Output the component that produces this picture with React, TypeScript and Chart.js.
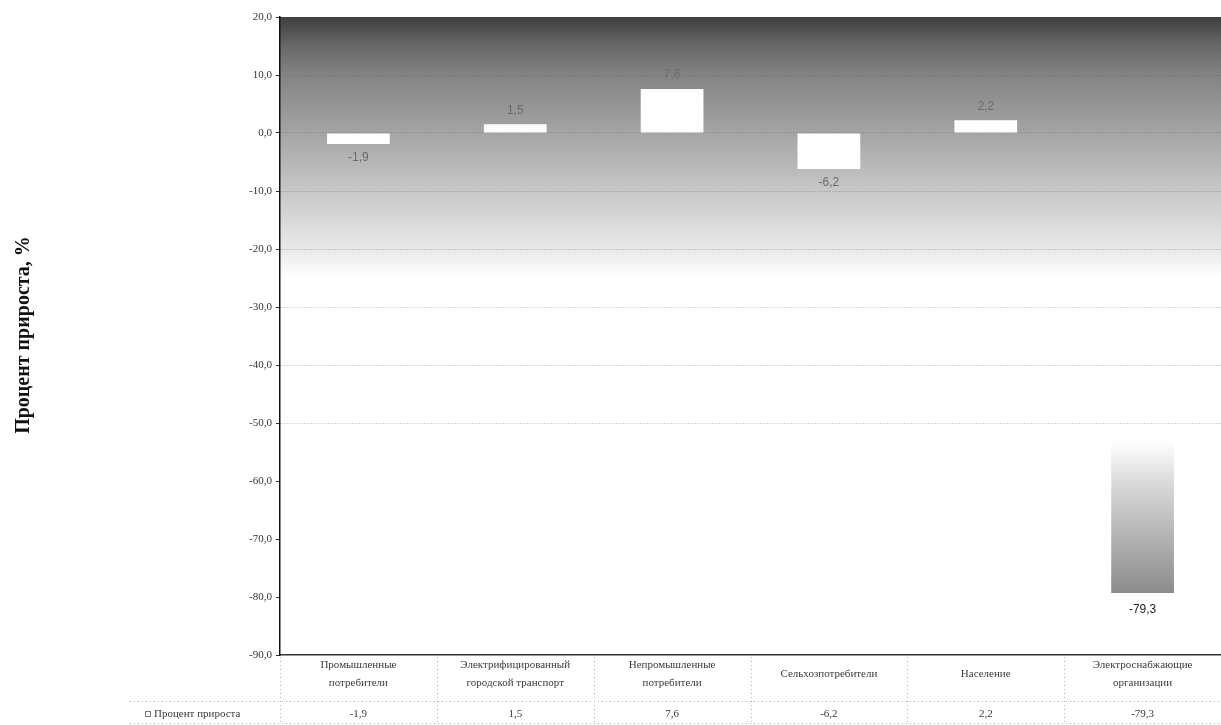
import React, { useEffect, useRef } from "react";
import { Chart, registerables } from "chart.js";

Chart.register(...registerables);

const categories: string[][] = [
  ["Промышленные", "потребители"],
  ["Электрифицированный", "городской транспорт"],
  ["Непромышленные", "потребители"],
  ["Сельхозпотребители"],
  ["Население"],
  ["Электроснабжающие", "организации"],
];
const growthValues: number[] = [-1.9, 1.5, 7.6, -6.2, 2.2, -79.3];
const seriesName = "Процент прироста";
const yTitle = "Процент прироста, %";
const yMin = -90;
const yMax = 20;
const yStep = 10;

const fmt = (v: number) => v.toFixed(1).replace(".", ",");
const SERIF = "'Liberation Serif', 'Times New Roman', serif";
const SANS = "'Liberation Sans', Arial, sans-serif";

const backgroundPlugin = {
  id: "plotBackground",
  beforeDraw(chart: any) {
    const { ctx, chartArea, scales } = chart;
    const y = scales.y;
    const y0 = y.getPixelForValue(20);
    const y1 = y.getPixelForValue(-25);
    const g = ctx.createLinearGradient(0, y0, 0, y1);
    g.addColorStop(0, "#3e3e3e");
    g.addColorStop(0.11, "#686868");
    g.addColorStop(0.22, "#838383");
    g.addColorStop(0.44, "#a4a4a4");
    g.addColorStop(0.67, "#c8c8c8");
    g.addColorStop(0.89, "#e9e9e9");
    g.addColorStop(1, "#ffffff");
    ctx.save();
    ctx.fillStyle = g;
    ctx.fillRect(chartArea.left, chartArea.top, chartArea.right - chartArea.left, y1 - chartArea.top);
    ctx.restore();
  },
};

const labelsPlugin = {
  id: "valueLabels",
  afterDatasetsDraw(chart: any) {
    const { ctx } = chart;
    const meta = chart.getDatasetMeta(0);
    ctx.save();
    ctx.font = `12px ${SANS}`;
    ctx.textAlign = "center";
    ctx.textBaseline = "middle";
    meta.data.forEach((bar: any, i: number) => {
      const v = growthValues[i];
      const big = v < -20;
      ctx.fillStyle = big ? "#222222" : "#6a6a6a";
      const yy = v >= 0 ? bar.y - 14 : bar.y + (big ? 17 : 14);
      ctx.fillText(fmt(v), bar.x, yy);
    });
    ctx.restore();
  },
};

const titlePlugin = {
  id: "yTitle",
  afterDraw(chart: any) {
    const { ctx } = chart;
    ctx.save();
    ctx.translate(24, 335);
    ctx.rotate(-Math.PI / 2);
    ctx.font = `bold 20px ${SERIF}`;
    ctx.fillStyle = "#111111";
    ctx.textAlign = "center";
    ctx.textBaseline = "middle";
    ctx.fillText(yTitle, 0, 0);
    ctx.restore();
  },
};

const tablePlugin = {
  id: "dataTable",
  afterDraw(chart: any) {
    const { ctx, chartArea, scales } = chart;
    const x = scales.x;
    const bottom = chartArea.bottom;
    const step = (chartArea.right - chartArea.left) / categories.length;
    ctx.save();
    ctx.strokeStyle = "#b0b0b0";
    ctx.lineWidth = 1;
    ctx.setLineDash([1, 3]);
    ctx.beginPath();
    ctx.moveTo(130, 701.5);
    ctx.lineTo(chartArea.right, 701.5);
    ctx.moveTo(130, 723.5);
    ctx.lineTo(chartArea.right, 723.5);
    for (let i = 0; i <= categories.length; i++) {
      const bx = Math.round(chartArea.left + i * step) + 0.5;
      ctx.moveTo(bx, bottom + 2);
      ctx.lineTo(bx, 725);
    }
    ctx.stroke();
    ctx.setLineDash([]);

    ctx.fillStyle = "#3a3a3a";
    ctx.font = `11px ${SERIF}`;
    ctx.textAlign = "center";
    ctx.textBaseline = "middle";
    categories.forEach((lines, i) => {
      const cx = x.getPixelForValue(i);
      if (lines.length === 1) {
        ctx.fillText(lines[0], cx, 674);
      } else {
        lines.forEach((ln, k) => ctx.fillText(ln, cx, 665 + k * 18));
      }
      ctx.fillText(fmt(growthValues[i]), cx, 714);
    });
    ctx.strokeStyle = "#777777";
    ctx.lineWidth = 1;
    ctx.strokeRect(145.5, 711.5, 5, 5);
    ctx.textAlign = "left";
    ctx.fillText(seriesName, 154, 714);
    ctx.restore();
  },
};

export default function App() {
  const ref = useRef<HTMLCanvasElement | null>(null);

  useEffect(() => {
    if (!ref.current) return;
    const chart = new Chart(ref.current, {
      type: "bar",
      data: {
        labels: categories,
        datasets: [
          {
            label: seriesName,
            data: growthValues,
            borderWidth: 0,
            barPercentage: 0.4,
            categoryPercentage: 1,
            backgroundColor: (c: any) => {
              const ch = c.chart;
              const area = ch.chartArea;
              const v = c.raw as number;
              if (!area || v > -20) return "#ffffff";
              const y = ch.scales.y;
              const g = ch.ctx.createLinearGradient(0, y.getPixelForValue(0), 0, y.getPixelForValue(v));
              g.addColorStop(0, "rgba(255,255,255,0)");
              g.addColorStop(0.64, "rgba(255,255,255,0)");
              g.addColorStop(0.67, "rgba(255,255,255,1)");
              g.addColorStop(0.76, "#dadada");
              g.addColorStop(1, "#8c8c8c");
              return g;
            },
          },
        ],
      },
      options: {
        responsive: false,
        animation: false,
        devicePixelRatio: 1,
        layout: { padding: { top: 17, bottom: 70, left: 0, right: 0 } },
        plugins: {
          legend: { display: false },
          tooltip: { enabled: false },
        },
        scales: {
          x: {
            ticks: { display: false },
            grid: { display: false, drawTicks: false },
            border: { display: true, color: "#333333", width: 1.5 },
            afterFit: (s: any) => {
              s.height = 0;
            },
          },
          y: {
            min: yMin,
            max: yMax,
            ticks: {
              stepSize: yStep,
              padding: 4,
              color: "#333333",
              font: { family: SERIF, size: 11 },
              callback: (v: any) => fmt(Number(v)),
            },
            grid: {
              color: (c: any) => {
                const v = c.tick?.value;
                if (v === undefined || v === yMax || v === yMin) return "rgba(0,0,0,0)";
                return v >= -50 ? "rgba(80,80,80,0.45)" : "rgba(0,0,0,0)";
              },
              tickColor: "#333333",
              tickLength: 4,
            },
            border: { display: true, color: "#111111", width: 1.5, dash: [1, 2] },
            afterFit: (s: any) => {
              s.width = 280;
            },
          },
        },
      },
      plugins: [backgroundPlugin, labelsPlugin, titlePlugin, tablePlugin],
    } as any);
    return () => chart.destroy();
  }, []);

  return (
    <div style={{ position: "fixed", left: 0, top: 0, width: 1221, height: 725, background: "#ffffff" }}>
      <canvas ref={ref} width={1221} height={725} style={{ display: "block" }} />
    </div>
  );
}
